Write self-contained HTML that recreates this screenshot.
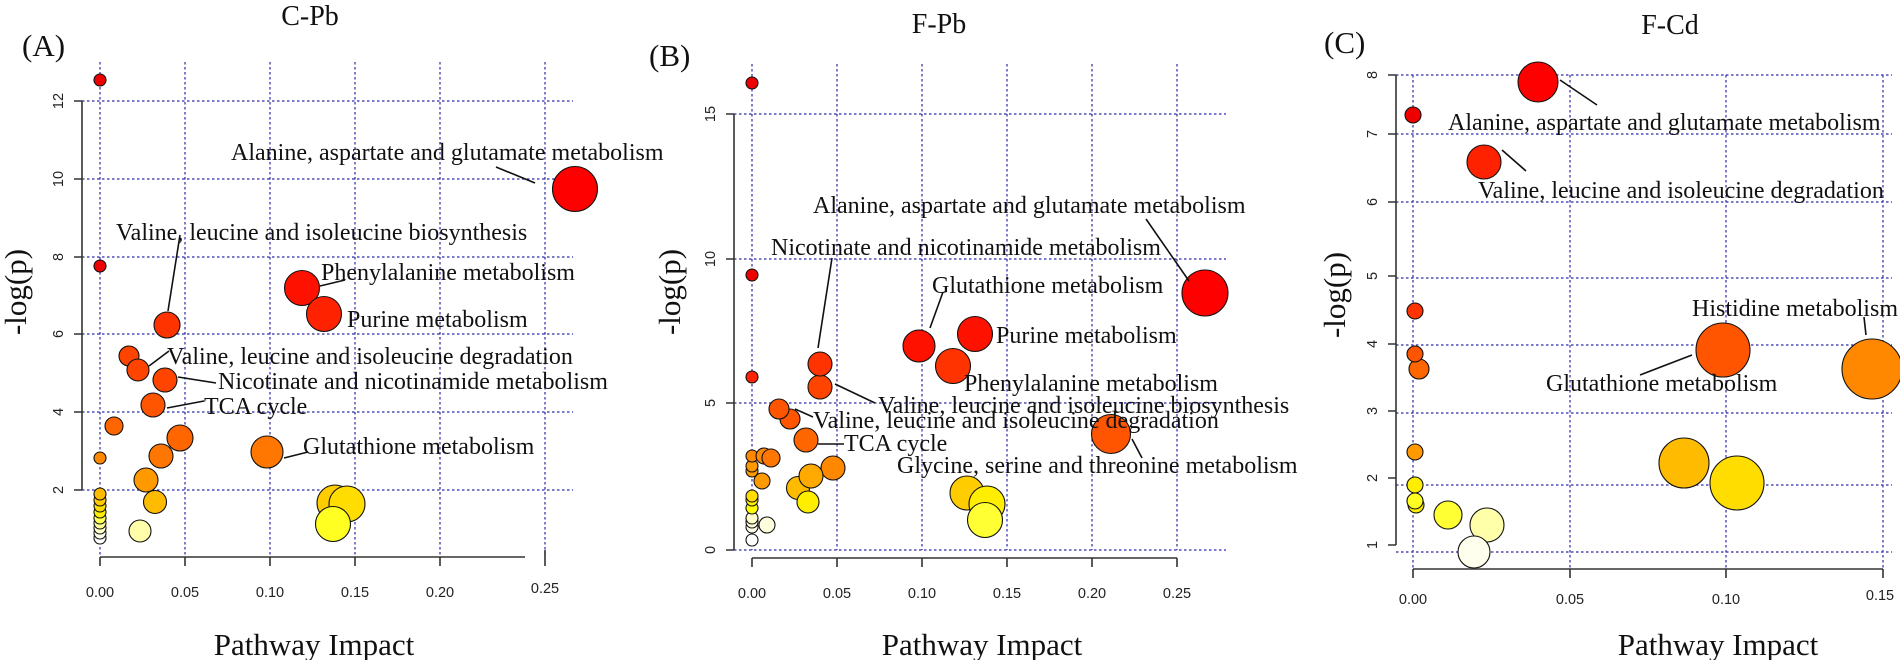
<!DOCTYPE html>
<html><head><meta charset="utf-8"><style>
html,body{margin:0;padding:0;background:#fff;}
svg{display:block;}
.g{stroke:#2a2aa8;stroke-width:1.2;stroke-dasharray:2.5,2.5;fill:none;}
.ax{stroke:#333;stroke-width:1.6;fill:none;}
.tk{font-family:"Liberation Sans",sans-serif;font-size:14.5px;fill:#222;}
.lb{font-family:"Liberation Serif",serif;font-size:24px;fill:#111;}
.tt{font-family:"Liberation Serif",serif;font-size:28px;fill:#111;}
.at{font-family:"Liberation Serif",serif;font-size:31px;fill:#111;}
.ln{stroke:#111;stroke-width:1.6;}
circle{stroke:#111;stroke-width:1.1;}
</style></head><body>
<svg width="1900" height="660" viewBox="0 0 1900 660" xmlns="http://www.w3.org/2000/svg">
<!-- ========== PANEL A ========== -->
<g>
<text class="tt" x="310" y="25" text-anchor="middle">C-Pb</text>
<text class="at" x="22" y="56">(A)</text>
<text class="at" transform="translate(26,292) rotate(-90)" text-anchor="middle">-log(p)</text>
<text class="at" x="314" y="655" text-anchor="middle">Pathway Impact</text>
<!-- grid -->
<g class="g">
<line x1="82" y1="101" x2="573" y2="101"/><line x1="82" y1="179" x2="573" y2="179"/>
<line x1="82" y1="257" x2="573" y2="257"/><line x1="82" y1="334" x2="573" y2="334"/>
<line x1="82" y1="412" x2="573" y2="412"/><line x1="82" y1="490" x2="573" y2="490"/>
<line x1="100" y1="62" x2="100" y2="557"/><line x1="185" y1="62" x2="185" y2="557"/>
<line x1="270" y1="62" x2="270" y2="557"/><line x1="355" y1="62" x2="355" y2="557"/>
<line x1="440" y1="62" x2="440" y2="557"/><line x1="545" y1="62" x2="545" y2="557"/>
</g>
<path class="ax" d="M82 101 V490 M74 101 H82 M74 179 H82 M74 257 H82 M74 334 H82 M74 412 H82 M74 490 H82"/>
<path class="ax" d="M100 557 H525 M100 557 V566 M185 557 V566 M270 557 V566 M355 557 V566 M440 557 V566 M545 550 V566"/>
<g class="tk" text-anchor="middle">
<text x="100" y="597">0.00</text><text x="185" y="597">0.05</text><text x="270" y="597">0.10</text>
<text x="355" y="597">0.15</text><text x="440" y="597">0.20</text><text x="545" y="593">0.25</text>
<text transform="translate(63,101) rotate(-90)">12</text><text transform="translate(63,179) rotate(-90)">10</text>
<text transform="translate(63,257) rotate(-90)">8</text><text transform="translate(63,334) rotate(-90)">6</text>
<text transform="translate(63,412) rotate(-90)">4</text><text transform="translate(63,490) rotate(-90)">2</text>
</g>
<!-- points -->
<circle cx="100" cy="538" r="6" fill="#fff"/><circle cx="100" cy="533" r="6" fill="#ffe"/>
<circle cx="100" cy="528" r="6" fill="#ffc"/><circle cx="100" cy="523" r="6" fill="#ff9"/>
<circle cx="100" cy="518" r="6" fill="#ff5"/><circle cx="100" cy="512" r="6" fill="#fe0"/>
<circle cx="100" cy="506" r="6" fill="#fd0"/><circle cx="100" cy="500" r="6" fill="#fc0"/>
<circle cx="100" cy="494" r="6" fill="#fb0"/>
<circle cx="140" cy="531" r="11" fill="#ffa"/>
<circle cx="155" cy="502" r="11.5" fill="#fb0"/>
<circle cx="146" cy="480" r="12" fill="#f90"/>
<circle cx="335" cy="503" r="18" fill="#fc0"/>
<circle cx="347" cy="504" r="18" fill="#fd0"/>
<circle cx="333" cy="524" r="17.5" fill="#ff2"/>
<circle cx="100" cy="458" r="6" fill="#f80"/>
<circle cx="161" cy="456" r="12" fill="#f70"/>
<circle cx="267" cy="452" r="16" fill="#f70"/>
<circle cx="114" cy="426" r="9" fill="#f60"/>
<circle cx="180" cy="438" r="13" fill="#f60"/>
<circle cx="153" cy="405" r="12" fill="#f50"/>
<circle cx="165" cy="380" r="12" fill="#f40"/>
<circle cx="129" cy="356" r="10" fill="#f40"/>
<circle cx="138" cy="370" r="11" fill="#f40"/>
<circle cx="167" cy="325" r="13" fill="#f30"/>
<circle cx="302" cy="288" r="17.5" fill="#f10"/>
<circle cx="324" cy="314" r="17.5" fill="#f20"/>
<circle cx="100" cy="266" r="6" fill="#e00"/>
<circle cx="100" cy="80" r="6" fill="#e00"/>
<circle cx="575" cy="189" r="22.5" fill="#f00"/>
<!-- labels -->
<g class="lb">
<text x="231" y="160">Alanine, aspartate and glutamate metabolism</text>
<text x="116" y="240">Valine, leucine and isoleucine biosynthesis</text>
<text x="321" y="280">Phenylalanine metabolism</text>
<text x="347" y="327">Purine metabolism</text>
<text x="167" y="364">Valine, leucine and isoleucine degradation</text>
<text x="218" y="389">Nicotinate and nicotinamide metabolism</text>
<text x="204" y="414">TCA cycle</text>
<text x="303" y="454">Glutathione metabolism</text>
</g>
<g class="ln">
<line x1="496" y1="167" x2="535" y2="183"/><line x1="180" y1="235" x2="168" y2="311"/>
<line x1="320" y1="286" x2="345" y2="280"/><line x1="149" y1="366" x2="169" y2="351"/>
<line x1="178" y1="377" x2="216" y2="383"/><line x1="167" y1="408" x2="204" y2="401"/>
<line x1="284" y1="458" x2="308" y2="452"/>
</g>
</g>

<!-- ========== PANEL B ========== -->
<g>
<text class="tt" x="939" y="33" text-anchor="middle">F-Pb</text>
<text class="at" x="649" y="66">(B)</text>
<text class="at" transform="translate(680,292) rotate(-90)" text-anchor="middle">-log(p)</text>
<text class="at" x="982" y="655" text-anchor="middle">Pathway Impact</text>
<g class="g">
<line x1="734" y1="114" x2="1226" y2="114"/><line x1="734" y1="259" x2="1226" y2="259"/>
<line x1="734" y1="403" x2="1226" y2="403"/><line x1="734" y1="550" x2="1226" y2="550"/>
<line x1="752" y1="64" x2="752" y2="550"/><line x1="837" y1="64" x2="837" y2="550"/>
<line x1="922" y1="64" x2="922" y2="550"/><line x1="1007" y1="64" x2="1007" y2="550"/>
<line x1="1092" y1="64" x2="1092" y2="550"/><line x1="1177" y1="64" x2="1177" y2="550"/>
</g>
<path class="ax" d="M734 114 V550 M726 114 H734 M726 259 H734 M726 403 H734 M726 550 H734"/>
<path class="ax" d="M752 558 H1177 M752 558 V567 M837 558 V567 M922 558 V567 M1007 558 V567 M1092 558 V567 M1177 558 V567"/>
<g class="tk" text-anchor="middle">
<text x="752" y="598">0.00</text><text x="837" y="598">0.05</text><text x="922" y="598">0.10</text>
<text x="1007" y="598">0.15</text><text x="1092" y="598">0.20</text><text x="1177" y="598">0.25</text>
<text transform="translate(715,114) rotate(-90)">15</text><text transform="translate(715,259) rotate(-90)">10</text>
<text transform="translate(715,403) rotate(-90)">5</text><text transform="translate(715,550) rotate(-90)">0</text>
</g>
<circle cx="752" cy="540" r="6" fill="#fff"/>
<circle cx="752" cy="527" r="6" fill="#ffe"/><circle cx="752" cy="522" r="6" fill="#ffd"/>
<circle cx="752" cy="518" r="6" fill="#ffc"/>
<circle cx="767" cy="525" r="8" fill="#ffd"/>
<circle cx="752" cy="508" r="6" fill="#ff0"/><circle cx="752" cy="500" r="6" fill="#fe0"/>
<circle cx="752" cy="496" r="6" fill="#fd0"/>
<circle cx="762" cy="481" r="8" fill="#f90"/>
<circle cx="752" cy="471" r="6" fill="#f90"/><circle cx="752" cy="466" r="6" fill="#f90"/>
<circle cx="752" cy="456" r="6" fill="#f80"/>
<circle cx="764" cy="456" r="8" fill="#f80"/><circle cx="771" cy="458" r="9" fill="#f70"/>
<circle cx="833" cy="468" r="12" fill="#f80"/>
<circle cx="798" cy="488" r="11.5" fill="#fb0"/>
<circle cx="811" cy="476" r="12" fill="#fa0"/>
<circle cx="808" cy="502" r="11" fill="#fe0"/>
<circle cx="967" cy="493" r="17" fill="#fc0"/>
<circle cx="987" cy="504" r="18" fill="#fe0"/>
<circle cx="985" cy="520" r="17.5" fill="#ff3"/>
<circle cx="806" cy="440" r="12" fill="#f60"/>
<circle cx="790" cy="419" r="10" fill="#f50"/>
<circle cx="779" cy="409" r="10" fill="#f50"/>
<circle cx="1111" cy="434" r="19.5" fill="#f50"/>
<circle cx="820" cy="387" r="12" fill="#f40"/>
<circle cx="820" cy="364" r="12" fill="#f30"/>
<circle cx="752" cy="377" r="6" fill="#f20"/>
<circle cx="953" cy="366" r="17.5" fill="#f30"/>
<circle cx="919" cy="346" r="16" fill="#f10"/>
<circle cx="975" cy="334" r="17.5" fill="#f10"/>
<circle cx="752" cy="275" r="6" fill="#e00"/>
<circle cx="752" cy="83" r="6" fill="#e00"/>
<circle cx="1205" cy="293" r="23" fill="#f00"/>
<g class="lb">
<text x="813" y="213">Alanine, aspartate and glutamate metabolism</text>
<text x="771" y="255">Nicotinate and nicotinamide metabolism</text>
<text x="932" y="293">Glutathione metabolism</text>
<text x="996" y="343">Purine metabolism</text>
<text x="964" y="391">Phenylalanine metabolism</text>
<text x="878" y="413">Valine, leucine and isoleucine biosynthesis</text>
<text x="813" y="428">Valine, leucine and isoleucine degradation</text>
<text x="844" y="451">TCA cycle</text>
<text x="897" y="473">Glycine, serine and threonine metabolism</text>
</g>
<g class="ln">
<line x1="1146" y1="219" x2="1189" y2="281"/><line x1="832" y1="258" x2="818" y2="348"/>
<line x1="943" y1="292" x2="930" y2="328"/><line x1="835" y1="384" x2="875" y2="403"/>
<line x1="795" y1="409" x2="813" y2="417"/><line x1="818" y1="444" x2="844" y2="444"/>
<line x1="1132" y1="439" x2="1142" y2="458"/>
</g>
</g>

<!-- ========== PANEL C ========== -->
<g>
<text class="tt" x="1670" y="34" text-anchor="middle">F-Cd</text>
<text class="at" x="1324" y="53">(C)</text>
<text class="at" transform="translate(1345,295) rotate(-90)" text-anchor="middle">-log(p)</text>
<text class="at" x="1718" y="655" text-anchor="middle">Pathway Impact</text>
<g class="g">
<line x1="1396" y1="75" x2="1892" y2="75"/><line x1="1396" y1="134" x2="1892" y2="134"/>
<line x1="1396" y1="202" x2="1892" y2="202"/><line x1="1396" y1="278" x2="1892" y2="278"/>
<line x1="1396" y1="345" x2="1892" y2="345"/><line x1="1396" y1="413" x2="1892" y2="413"/>
<line x1="1396" y1="485" x2="1892" y2="485"/><line x1="1396" y1="552" x2="1892" y2="552"/>
<line x1="1413" y1="75" x2="1413" y2="569"/><line x1="1570" y1="75" x2="1570" y2="569"/>
<line x1="1726" y1="75" x2="1726" y2="569"/><line x1="1883" y1="75" x2="1883" y2="569"/>
</g>
<path class="ax" d="M1396 75 V545 M1388 75 H1396 M1388 134 H1396 M1388 202 H1396 M1388 276 H1396 M1388 344 H1396 M1388 411 H1396 M1388 478 H1396 M1388 545 H1396"/>
<path class="ax" d="M1413 569 H1883 M1413 569 V578 M1570 569 V578 M1726 569 V578 M1883 569 V578"/>
<g class="tk" text-anchor="middle">
<text x="1413" y="604">0.00</text><text x="1570" y="604">0.05</text><text x="1726" y="604">0.10</text><text x="1880" y="600">0.15</text>
<text transform="translate(1377,75) rotate(-90)">8</text><text transform="translate(1377,134) rotate(-90)">7</text>
<text transform="translate(1377,202) rotate(-90)">6</text><text transform="translate(1377,276) rotate(-90)">5</text>
<text transform="translate(1377,344) rotate(-90)">4</text><text transform="translate(1377,411) rotate(-90)">3</text>
<text transform="translate(1377,478) rotate(-90)">2</text><text transform="translate(1377,545) rotate(-90)">1</text>
</g>
<circle cx="1487" cy="525" r="17" fill="#ffa"/>
<circle cx="1474" cy="552" r="16" fill="#ffe"/>
<circle cx="1448" cy="515" r="14" fill="#ff3"/>
<circle cx="1416" cy="505" r="8" fill="#fe0"/>
<circle cx="1415" cy="501" r="8" fill="#ff2"/>
<circle cx="1415" cy="485" r="8" fill="#fe0"/>
<circle cx="1415" cy="452" r="8" fill="#f90"/>
<circle cx="1684" cy="463" r="25" fill="#fb0"/>
<circle cx="1737" cy="483" r="27" fill="#fd0"/>
<circle cx="1419" cy="369" r="10" fill="#f60"/>
<circle cx="1415" cy="354" r="8" fill="#f50"/>
<circle cx="1415" cy="311" r="8" fill="#f30"/>
<circle cx="1723" cy="350" r="27" fill="#f50"/>
<circle cx="1872" cy="369" r="30" fill="#f80"/>
<circle cx="1484" cy="162" r="17" fill="#f20"/>
<circle cx="1413" cy="115" r="8" fill="#e00"/>
<circle cx="1538" cy="82" r="20" fill="#f00"/>
<g class="lb">
<text x="1448" y="130">Alanine, aspartate and glutamate metabolism</text>
<text x="1478" y="198">Valine, leucine and isoleucine degradation</text>
<text x="1692" y="316">Histidine metabolism</text>
<text x="1546" y="391">Glutathione metabolism</text>
</g>
<g class="ln">
<line x1="1560" y1="80" x2="1597" y2="105"/><line x1="1502" y1="150" x2="1526" y2="171"/>
<line x1="1864" y1="317" x2="1866" y2="335"/><line x1="1640" y1="375" x2="1692" y2="355"/>
</g>
</g>
</svg>
</body></html>
